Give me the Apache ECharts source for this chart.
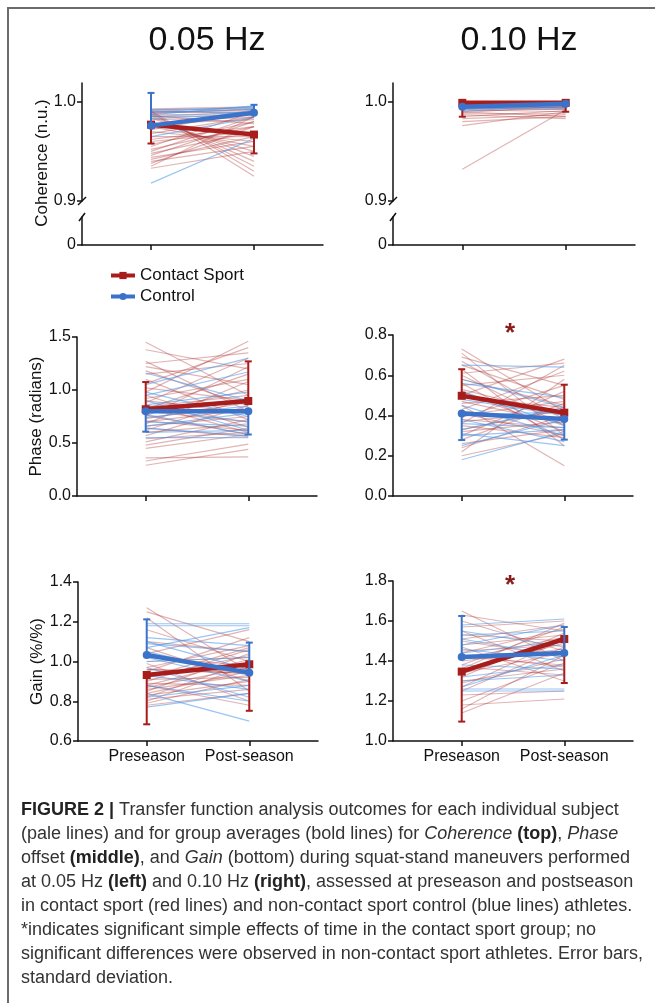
<!DOCTYPE html>
<html>
<head>
<meta charset="utf-8">
<script src="https://cdn.jsdelivr.net/npm/echarts@6.0.0/dist/echarts.min.js"></script>
<style>
  html, body { margin: 0; padding: 0; background: #fff; }
  #main { width: 655px; height: 1003px; }
</style>
</head>
<body>
<div id="main"></div>
<script>
/*
 * Figure 2: pre/post season individual lines + group means, 3 measures x 2 frequencies
 */
var xLabels = ['Preseason', 'Post-season'];
var seriesNames = ['Contact Sport', 'Control'];

// tick labels
var cohTicks = [0.9, 1.0];
var cohLowTicks = [0];
var phase05Ticks = [0, 0.5, 1.0, 1.5];
var phase10Ticks = [0, 0.2, 0.4, 0.6, 0.8];
var gain05Ticks = [0.6, 0.8, 1.0, 1.2, 1.4];
var gain10Ticks = [1.0, 1.2, 1.4, 1.6, 1.8];

// Coherence 0.05 Hz
var coh05RedPre  = [0.993, 0.992, 0.991, 0.990, 0.990, 0.989, 0.988, 0.987, 0.986, 0.985, 0.984, 0.982, 0.980, 0.978, 0.975, 0.972, 0.970, 0.968, 0.965, 0.962, 0.960, 0.957, 0.955, 0.952, 0.950, 0.948, 0.946, 0.944, 0.942, 0.940, 0.938, 0.935, 0.933, 0.991, 0.989, 0.986];
var coh05RedPost = [0.995, 0.993, 0.930, 0.992, 0.925, 0.990, 0.935, 0.988, 0.940, 0.986, 0.945, 0.984, 0.950, 0.982, 0.955, 0.990, 0.960, 0.985, 0.965, 0.975, 0.970, 0.980, 0.990, 0.975, 0.985, 0.970, 0.980, 0.960, 0.965, 0.955, 0.975, 0.985, 0.950, 0.988, 0.992, 0.978];
var coh05BluePre  = [0.918, 0.965, 0.990, 0.988, 0.992, 0.985, 0.987, 0.991, 0.975, 0.983];
var coh05BluePost = [0.963, 0.984, 0.995, 0.993, 0.994, 0.990, 0.996, 0.989, 0.992, 0.988];
var coh05RedMean = [0.977, 0.967];
var coh05RedErr  = [0.958, 0.948];
var coh05BlueMean = [0.976, 0.989];
var coh05BlueErr  = [1.009, 0.997];

// Coherence 0.10 Hz
var coh10RedPre  = [0.999, 0.998, 0.997, 0.996, 0.995, 0.994, 0.993, 0.992, 0.991, 0.990, 0.989, 0.988, 0.987, 0.985, 0.983, 0.980, 0.976, 0.932, 0.998, 0.997];
var coh10RedPost = [0.998, 0.996, 0.999, 0.994, 0.997, 0.992, 0.995, 0.990, 0.993, 0.985, 0.996, 0.988, 0.983, 0.991, 0.987, 0.985, 0.990, 0.992, 0.999, 0.994];
var coh10BluePre  = [0.998, 0.996, 0.994, 0.992, 0.990, 0.995];
var coh10BluePost = [0.999, 0.997, 0.996, 0.995, 0.998, 0.993];
var coh10RedMean = [0.999, 0.999];
var coh10RedErr  = [0.985, 0.990];
var coh10BlueMean = [0.995, 0.998];
var coh10BlueErr  = [0.995, 0.998];

// Phase 0.05 Hz
var ph05RedPre  = [1.45, 1.38, 1.27, 1.25, 1.22, 1.18, 1.15, 1.10, 1.06, 1.02, 0.98, 0.95, 0.92, 0.90, 0.88, 0.86, 0.84, 0.82, 0.80, 0.78, 0.76, 0.75, 0.73, 0.71, 0.70, 0.68, 0.66, 0.64, 0.62, 0.60, 0.57, 0.54, 0.51, 0.48, 0.45, 0.36, 0.33, 0.29];
var ph05RedPost = [0.95, 1.20, 0.80, 1.35, 1.05, 0.85, 1.25, 0.72, 1.40, 0.90, 1.46, 0.65, 1.10, 0.78, 1.30, 0.60, 0.95, 1.15, 0.70, 1.00, 0.58, 1.22, 0.88, 0.62, 0.82, 1.08, 0.75, 0.56, 0.92, 0.68, 0.85, 0.60, 0.72, 0.64, 0.58, 0.37, 0.49, 0.44];
var ph05BluePre  = [1.16, 1.05, 0.98, 0.95, 0.90, 0.86, 0.83, 0.80, 0.77, 0.74, 0.70, 0.66, 0.64, 0.60, 0.55];
var ph05BluePost = [0.90, 1.30, 0.75, 1.17, 0.62, 0.98, 0.70, 0.92, 0.58, 0.85, 0.66, 0.78, 0.57, 0.62, 0.55];
var ph05RedMean = [0.818, 0.896];
var ph05RedErr  = [1.075, 1.27];
var ph05BlueMean = [0.80, 0.80];
var ph05BlueErr  = [0.607, 0.58];

// Phase 0.10 Hz
var ph10RedPre  = [0.73, 0.71, 0.69, 0.67, 0.65, 0.63, 0.61, 0.60, 0.58, 0.56, 0.55, 0.53, 0.52, 0.50, 0.49, 0.47, 0.46, 0.45, 0.43, 0.42, 0.41, 0.40, 0.39, 0.38, 0.37, 0.36, 0.35, 0.33, 0.32, 0.30, 0.28, 0.26, 0.24, 0.22, 0.20];
var ph10RedPost = [0.42, 0.30, 0.55, 0.38, 0.48, 0.25, 0.66, 0.35, 0.45, 0.28, 0.60, 0.40, 0.32, 0.68, 0.44, 0.36, 0.50, 0.15, 0.62, 0.38, 0.30, 0.47, 0.55, 0.34, 0.42, 0.65, 0.29, 0.43, 0.37, 0.52, 0.46, 0.33, 0.40, 0.58, 0.31];
var ph10BluePre  = [0.65, 0.58, 0.56, 0.52, 0.48, 0.45, 0.42, 0.40, 0.38, 0.36, 0.33, 0.31, 0.30, 0.25, 0.18];
var ph10BluePost = [0.64, 0.44, 0.49, 0.35, 0.40, 0.30, 0.38, 0.42, 0.27, 0.34, 0.44, 0.25, 0.33, 0.38, 0.32];
var ph10RedMean = [0.498, 0.414];
var ph10RedErr  = [0.63, 0.553];
var ph10BlueMean = [0.41, 0.383];
var ph10BlueErr  = [0.278, 0.28];

// Gain 0.05 Hz
var g05RedPre  = [1.27, 1.25, 1.22, 1.16, 1.10, 1.07, 1.04, 1.02, 1.00, 0.99, 0.97, 0.96, 0.95, 0.94, 0.93, 0.92, 0.91, 0.90, 0.89, 0.88, 0.87, 0.86, 0.85, 0.84, 0.83, 0.82, 0.81, 0.80, 0.79, 0.78, 0.88, 0.92, 0.96];
var g05RedPost = [0.95, 1.10, 0.85, 1.00, 1.05, 0.90, 1.16, 0.98, 1.02, 0.80, 1.08, 0.94, 1.12, 0.96, 0.99, 1.03, 0.92, 1.06, 0.88, 1.01, 0.97, 0.93, 1.04, 0.95, 0.90, 1.00, 0.86, 0.98, 0.91, 0.84, 0.78, 1.07, 0.94];
var g05BluePre  = [1.19, 1.18, 1.12, 1.10, 1.09, 1.07, 1.05, 1.02, 1.00, 0.97, 0.93, 0.88, 0.84, 0.82, 0.77];
var g05BluePost = [1.19, 1.18, 1.08, 0.96, 1.05, 1.17, 0.93, 0.90, 1.02, 0.82, 0.86, 0.80, 0.70, 0.88, 0.84];
var g05RedMean = [0.932, 0.986];
var g05RedErr  = [0.684, 0.752];
var g05BlueMean = [1.033, 0.944];
var g05BlueErr  = [1.212, 1.095];

// Gain 0.10 Hz
var g10RedPre  = [1.65, 1.63, 1.60, 1.57, 1.55, 1.53, 1.51, 1.50, 1.48, 1.47, 1.45, 1.44, 1.42, 1.41, 1.40, 1.38, 1.37, 1.35, 1.34, 1.32, 1.30, 1.29, 1.27, 1.25, 1.23, 1.20, 1.18, 1.16, 1.14, 1.36, 1.43];
var g10RedPost = [1.40, 1.55, 1.45, 1.60, 1.35, 1.50, 1.58, 1.42, 1.53, 1.30, 1.48, 1.56, 1.38, 1.52, 1.46, 1.57, 1.33, 1.49, 1.44, 1.54, 1.36, 1.41, 1.51, 1.47, 1.25, 1.39, 1.21, 1.43, 1.34, 1.59, 1.37];
var g10BluePre  = [1.58, 1.55, 1.53, 1.51, 1.48, 1.46, 1.44, 1.41, 1.38, 1.35, 1.32, 1.30, 1.27, 1.25, 1.26];
var g10BluePost = [1.61, 1.47, 1.55, 1.42, 1.58, 1.40, 1.50, 1.45, 1.36, 1.52, 1.38, 1.33, 1.43, 1.25, 1.26];
var g10RedMean = [1.347, 1.51];
var g10RedErr  = [1.097, 1.29];
var g10BlueMean = [1.42, 1.44];
var g10BlueErr  = [1.625, 1.57];

var RED = '#a81c1c', BLUE = '#3a73c9';
var PALE_RED = 'rgba(172,48,48,0.36)', PALE_BLUE = 'rgba(70,150,235,0.55)';
var INK = '#111';
var FONT = 'Liberation Sans, Arial, sans-serif';
var X_MIN = -0.67, X_MAX = 1.67;

var option = {
	animation: false,
	backgroundColor: '#fff',
	textStyle: { fontFamily: FONT },
	grid: [], xAxis: [], yAxis: [], series: [], graphic: [],
	legend: {
		data: seriesNames,
		orient: 'vertical',
		left: 109, top: 267, padding: 0,
		itemWidth: 24, itemHeight: 9, itemGap: 4,
		selectedMode: false,
		lineStyle: { width: 4 },
		textStyle: { fontSize: 17, color: INK, fontFamily: FONT }
	}
};

function addAxes(box, yMin, yMax, ticks, opts) {
	var idx = option.grid.length;
	option.grid.push({ left: box[0], top: box[1], width: box[2], height: box[3] });
	option.xAxis.push({
		gridIndex: idx, type: 'value', min: X_MIN, max: X_MAX, show: !!opts.showX,
		axisLine: { onZero: false, lineStyle: { color: INK, width: 1.5 } },
		axisTick: { customValues: [0, 1], length: 5, lineStyle: { color: INK, width: 1.5 } },
		axisLabel: {
			show: !!opts.xLabels, customValues: [0, 1], fontSize: 16, color: INK, margin: 8,
			formatter: function (v) { return xLabels[Math.round(v)] || ''; }
		},
		splitLine: { show: false }
	});
	option.yAxis.push({
		gridIndex: idx, type: 'value', min: yMin, max: yMax,
		name: opts.name || '', nameLocation: 'middle', nameGap: opts.nameGap || 0,
		nameTextStyle: { fontSize: 17, color: INK, fontFamily: FONT },
		axisLine: { show: true, onZero: false, lineStyle: { color: INK, width: 1.5 } },
		axisTick: { show: true, customValues: ticks, length: 5, lineStyle: { color: INK, width: 1.5 } },
		axisLabel: {
			customValues: ticks, fontSize: 16, color: INK, margin: 6,
			formatter: function (v) { return v === 0 && opts.plainZero ? '0' : v.toFixed(1); }
		},
		splitLine: { show: false }
	});
	return idx;
}

function addSubjects(idx, pre, post, color) {
	for (var i = 0; i < pre.length; i++) {
		option.series.push({
			type: 'line', xAxisIndex: idx, yAxisIndex: idx, silent: true,
			data: [[0, pre[i]], [1, post[i]]],
			symbol: 'none', lineStyle: { color: color, width: 1.2 }, z: 1
		});
	}
}

function addGroup(idx, name, mean, tip, color, symbol, z) {
	option.series.push({
		type: 'custom', xAxisIndex: idx, yAxisIndex: idx, silent: true, z: z,
		data: [[0, mean[0], tip[0]], [1, mean[1], tip[1]]],
		renderItem: function (params, api) {
			var p0 = api.coord([api.value(0), api.value(1)]);
			var p1 = api.coord([api.value(0), api.value(2)]);
			var st = { stroke: color, lineWidth: 2 };
			return {
				type: 'group', children: [
					{ type: 'line', shape: { x1: p0[0], y1: p0[1], x2: p1[0], y2: p1[1] }, style: st },
					{ type: 'line', shape: { x1: p1[0] - 3.5, y1: p1[1], x2: p1[0] + 3.5, y2: p1[1] }, style: st }
				]
			};
		}
	});
	option.series.push({
		type: 'line', name: name, xAxisIndex: idx, yAxisIndex: idx, silent: true, z: z,
		data: [[0, mean[0]], [1, mean[1]]],
		symbol: symbol, symbolSize: 8,
		lineStyle: { color: color, width: 4.5 },
		itemStyle: { color: color }
	});
}

function addPanel(idx, d) {
	addSubjects(idx, d.redPre, d.redPost, PALE_RED);
	addSubjects(idx, d.bluePre, d.bluePost, PALE_BLUE);
	addGroup(idx, seriesNames[0], d.redMean, d.redErr, RED, 'rect', 3);
	addGroup(idx, seriesNames[1], d.blueMean, d.blueErr, BLUE, 'circle', 4);
}

// breaks for coherence axes
function addBreak(x, yTop, yLow) {
	var st = { stroke: INK, lineWidth: 1.5 };
	option.graphic.push({ type: 'line', shape: { x1: x - 4, y1: yTop + 4, x2: x + 4, y2: yTop - 4 }, style: st });
	option.graphic.push({ type: 'line', shape: { x1: x - 3, y1: yLow + 4, x2: x + 3, y2: yLow - 4 }, style: st });
}

// --- row 1: coherence (broken axis) ---
var c05 = addAxes([82, 83, 241, 118], 0.9, 1.019, cohTicks, {});
addAxes([82, 217, 241, 28], 0, 1, cohLowTicks, { showX: true, plainZero: true });
var c10 = addAxes([393, 83, 242, 118], 0.9, 1.019, cohTicks, {});
addAxes([393, 217, 242, 28], 0, 1, cohLowTicks, { showX: true, plainZero: true });
addBreak(82, 201, 217);
addBreak(393, 201, 217);

// --- row 2: phase ---
var p05 = addAxes([77, 337, 240, 159], 0, 1.5, phase05Ticks, { showX: true, name: 'Phase (radians)', nameGap: 27 });
var p10 = addAxes([393, 335, 240, 161], 0, 0.8, phase10Ticks, { showX: true });

// --- row 3: gain ---
var g05 = addAxes([78, 582, 240, 159], 0.6, 1.4, gain05Ticks, { showX: true, xLabels: true, name: 'Gain (%/%)', nameGap: 29 });
var g10 = addAxes([393, 581, 240, 160], 1.0, 1.8, gain10Ticks, { showX: true, xLabels: true });

addPanel(c05, { redPre: coh05RedPre, redPost: coh05RedPost, bluePre: coh05BluePre, bluePost: coh05BluePost,
	redMean: coh05RedMean, redErr: coh05RedErr, blueMean: coh05BlueMean, blueErr: coh05BlueErr });
addPanel(c10, { redPre: coh10RedPre, redPost: coh10RedPost, bluePre: coh10BluePre, bluePost: coh10BluePost,
	redMean: coh10RedMean, redErr: coh10RedErr, blueMean: coh10BlueMean, blueErr: coh10BlueErr });
addPanel(p05, { redPre: ph05RedPre, redPost: ph05RedPost, bluePre: ph05BluePre, bluePost: ph05BluePost,
	redMean: ph05RedMean, redErr: ph05RedErr, blueMean: ph05BlueMean, blueErr: ph05BlueErr });
addPanel(p10, { redPre: ph10RedPre, redPost: ph10RedPost, bluePre: ph10BluePre, bluePost: ph10BluePost,
	redMean: ph10RedMean, redErr: ph10RedErr, blueMean: ph10BlueMean, blueErr: ph10BlueErr });
addPanel(g05, { redPre: g05RedPre, redPost: g05RedPost, bluePre: g05BluePre, bluePost: g05BluePost,
	redMean: g05RedMean, redErr: g05RedErr, blueMean: g05BlueMean, blueErr: g05BlueErr });
addPanel(g10, { redPre: g10RedPre, redPost: g10RedPost, bluePre: g10BluePre, bluePost: g10BluePost,
	redMean: g10RedMean, redErr: g10RedErr, blueMean: g10BlueMean, blueErr: g10BlueErr });

// frame (top + left edge of the figure box)
option.graphic.push({ type: 'polyline', shape: { points: [[8, 1010], [8, 8], [660, 8]] }, style: { stroke: '#6b6b6b', lineWidth: 2, fill: null } });

// column titles
function txt(x, y, text, font, fill, align) {
	return { type: 'text', x: x, y: y, style: { text: text, font: font, fill: fill || INK,
		align: align || 'center', textAlign: align || 'center', verticalAlign: 'middle', textVerticalAlign: 'middle' } };
}
option.graphic.push(txt(207, 41, '0.05 Hz', '34px ' + FONT));
option.graphic.push(txt(519, 41, '0.10 Hz', '34px ' + FONT));

// coherence axis name spans both parts of the broken axis
option.graphic.push({ type: 'text', x: 42, y: 163, rotation: Math.PI / 2,
	style: { text: 'Coherence (n.u.)', font: '17px ' + FONT, fill: INK, align: 'center', textAlign: 'center', verticalAlign: 'middle', textVerticalAlign: 'middle' } });

// significance markers
option.graphic.push(txt(510, 334, '*', 'bold 26px ' + FONT, '#8b1a1a'));
option.graphic.push(txt(510, 586, '*', 'bold 26px ' + FONT, '#8b1a1a'));

// caption
var caption = [
	'{b|FIGURE 2 |} Transfer function analysis outcomes for each individual subject',
	'(pale lines) and for group averages (bold lines) for {i|Coherence} {b|(top)}, {i|Phase}',
	'offset {b|(middle)}, and {i|Gain} (bottom) during squat-stand maneuvers performed',
	'at 0.05 Hz {b|(left)} and 0.10 Hz {b|(right)}, assessed at preseason and postseason',
	'in contact sport (red lines) and non-contact sport control (blue lines) athletes.',
	'*indicates significant simple effects of time in the contact sport group; no',
	'significant differences were observed in non-contact sport athletes. Error bars,',
	'standard deviation.'
].join('\n');
option.graphic.push({ type: 'text', x: 21, y: 798,
	style: {
		text: caption, fill: '#333', font: '18px ' + FONT, lineHeight: 24,
		align: 'left', textAlign: 'left', verticalAlign: 'top', textVerticalAlign: 'top',
		rich: {
			b: { fontWeight: 'bold', fontSize: 18, fontFamily: FONT, fill: '#222', color: '#222', lineHeight: 24 },
			i: { fontStyle: 'italic', fontSize: 18, fontFamily: FONT, fill: '#333', color: '#333', lineHeight: 24 }
		}
	} });

var myChart = echarts.init(document.getElementById('main'), null, { renderer: 'canvas' });
myChart.setOption(option);
</script>
</body>
</html>
